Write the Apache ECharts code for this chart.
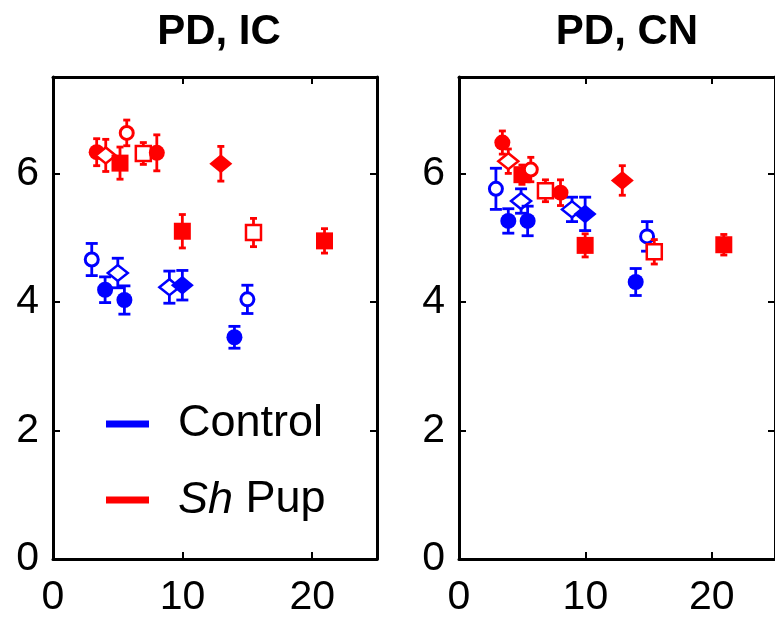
<!DOCTYPE html>
<html>
<head>
<meta charset="utf-8">
<script src="https://cdn.jsdelivr.net/npm/echarts@6/dist/echarts.min.js"></script>
<style>
  html, body { margin: 0; padding: 0; background: #fff; }
  #chart { width: 775px; height: 624px; }
</style>
</head>
<body>
<div id="chart"></div>
<script>
'use strict';

// tick labels
var xTicks = [0, 10, 20];
var yTicks = [0, 2, 4, 6];

// marker type per point (same order in both panels)
var controlMarkers = ['openCircle', 'openDiamond', 'circle', 'circle', 'openDiamond', 'diamond', 'openCircle', 'circle'];
var pupMarkers = ['circle', 'openDiamond', 'square', 'openCircle', 'openSquare', 'circle', 'diamond', 'square', 'openSquare', 'square'];

// PD, IC
var icControlX = [2.99, 5.0, 4.02, 5.51, 8.98, 9.98, 15.0, 14.0];
var icControlY = [4.66, 4.45, 4.19, 4.03, 4.23, 4.26, 4.04, 3.45];
var icControlErr = [0.25, 0.23, 0.2, 0.22, 0.25, 0.23, 0.22, 0.17];
var icPupX = [3.37, 4.07, 5.17, 5.69, 6.97, 8.01, 12.95, 9.98, 15.47, 20.95];
var icPupY = [6.33, 6.28, 6.16, 6.63, 6.31, 6.32, 6.15, 5.10, 5.08, 4.95];
var icPupErr = [0.21, 0.25, 0.25, 0.2, 0.17, 0.28, 0.27, 0.26, 0.22, 0.19];

// PD, CN
var cnControlX = [2.92, 4.91, 3.9, 5.43, 8.94, 9.98, 14.88, 13.98];
var cnControlY = [5.76, 5.57, 5.26, 5.26, 5.44, 5.37, 5.02, 4.31];
var cnControlErr = [0.32, 0.19, 0.19, 0.23, 0.19, 0.26, 0.23, 0.21];
var cnPupX = [3.43, 3.9, 4.98, 5.68, 6.84, 8.03, 12.92, 9.98, 15.45, 20.95];
var cnPupY = [6.48, 6.19, 5.98, 6.06, 5.73, 5.70, 5.89, 4.88, 4.78, 4.89];
var cnPupErr = [0.18, 0.19, 0.15, 0.19, 0.17, 0.2, 0.23, 0.18, 0.19, 0.16];

var BLUE = '#0000ff';
var RED = '#ff0000';
var FONT = '"Liberation Sans", Arial, sans-serif';

function zip(xs, ys, es) {
    var out = [];
    for (var i = 0; i < xs.length; i++) {
        out.push([xs[i], ys[i], es[i]]);
    }
    return out;
}

function markerShape(kind, x, y, color) {
    switch (kind) {
        case 'circle':
            return { type: 'circle', shape: { cx: x, cy: y, r: 8 }, style: { fill: color } };
        case 'openCircle':
            return { type: 'circle', shape: { cx: x, cy: y, r: 6.5 }, style: { fill: '#fff', stroke: color, lineWidth: 3 } };
        case 'square':
            return { type: 'rect', shape: { x: x - 8.5, y: y - 8.5, width: 17, height: 17 }, style: { fill: color } };
        case 'openSquare':
            return { type: 'rect', shape: { x: x - 7.5, y: y - 7.5, width: 15, height: 15 }, style: { fill: '#fff', stroke: color, lineWidth: 2.5 } };
        case 'diamond':
            return { type: 'polygon', shape: { points: [[x - 11.5, y], [x, y - 9.5], [x + 11.5, y], [x, y + 9.5]] }, style: { fill: color } };
        default: // openDiamond
            return { type: 'polygon', shape: { points: [[x - 10, y], [x, y - 8], [x + 10, y], [x, y + 8]] }, style: { fill: '#fff', stroke: color, lineWidth: 2.5 } };
    }
}

function makeRenderItem(markers, color, capHalf) {
    return function (params, api) {
        var xv = api.value(0), yv = api.value(1), ev = api.value(2);
        var p = api.coord([xv, yv]);
        var top = api.coord([xv, yv + ev]);
        var bot = api.coord([xv, yv - ev]);
        var lineStyle = { stroke: color, lineWidth: 2.8 };
        return {
            type: 'group',
            children: [
                { type: 'line', shape: { x1: p[0], y1: top[1], x2: p[0], y2: bot[1] }, style: lineStyle },
                { type: 'line', shape: { x1: p[0] - capHalf, y1: top[1], x2: p[0] + capHalf, y2: top[1] }, style: lineStyle },
                { type: 'line', shape: { x1: p[0] - capHalf, y1: bot[1], x2: p[0] + capHalf, y2: bot[1] }, style: lineStyle },
                markerShape(markers[params.dataIndex], p[0], p[1], color)
            ]
        };
    };
}

function panelSeries(xIdx, yIdx, ctrl, pup) {
    return [
        {
            name: 'Control',
            type: 'custom',
            xAxisIndex: xIdx,
            yAxisIndex: yIdx,
            clip: false,
            itemStyle: { color: BLUE },
            renderItem: makeRenderItem(controlMarkers, BLUE, 6),
            data: ctrl
        },
        {
            name: 'Sh Pup',
            type: 'custom',
            xAxisIndex: xIdx,
            yAxisIndex: yIdx,
            clip: false,
            itemStyle: { color: RED },
            renderItem: makeRenderItem(pupMarkers, RED, 3.5),
            data: pup
        }
    ];
}

var axisLine = { show: true, onZero: false, lineStyle: { color: '#000', width: 3 } };
var axisTick = { show: true, inside: true, length: 7, lineStyle: { color: '#000', width: 2 } };

function xAxisPair(gridIndex) {
    return [
        {
            type: 'value', gridIndex: gridIndex, position: 'bottom', min: 0, max: 25, interval: 10,
            axisLine: axisLine, splitLine: { show: false },
            axisTick: Object.assign({ customValues: xTicks }, axisTick),
            axisLabel: { customValues: xTicks, margin: 18, fontSize: 41, color: '#000', fontFamily: FONT }
        },
        {
            type: 'value', gridIndex: gridIndex, position: 'top', min: 0, max: 25, interval: 10,
            axisLine: axisLine, splitLine: { show: false },
            axisTick: Object.assign({ customValues: xTicks }, axisTick),
            axisLabel: { show: false }
        }
    ];
}

function yAxisPair(gridIndex) {
    return [
        {
            type: 'value', gridIndex: gridIndex, position: 'left', min: 0, max: 7.5, interval: 2,
            axisLine: axisLine, splitLine: { show: false },
            axisTick: Object.assign({ customValues: yTicks }, axisTick),
            axisLabel: { customValues: yTicks, margin: 14, fontSize: 41, color: '#000', fontFamily: FONT }
        },
        {
            type: 'value', gridIndex: gridIndex, position: 'right', min: 0, max: 7.5, interval: 2,
            axisLine: axisLine, splitLine: { show: false },
            axisTick: Object.assign({ customValues: yTicks }, axisTick),
            axisLabel: { show: false }
        }
    ];
}

var chart = echarts.init(document.getElementById('chart'));

var titleStyle = { fontSize: 42, fontWeight: 'bold', color: '#000', fontFamily: FONT };

var options = {
    animation: false,
    title: [
        { text: 'PD, IC', left: 214, top: 6, textAlign: 'center', textStyle: titleStyle },
        { text: 'PD, CN', left: 622, top: 6, textAlign: 'center', textStyle: titleStyle }
    ],
    grid: [
        { left: 53, top: 77, width: 324, height: 482 },
        { left: 459, top: 77, width: 323, height: 482 }
    ],
    xAxis: xAxisPair(0).concat(xAxisPair(1)),
    yAxis: yAxisPair(0).concat(yAxisPair(1)),
    graphic: [
        { type: 'rect', left: 106, top: 420.5, shape: { width: 43, height: 7 }, style: { fill: BLUE } },
        { type: 'rect', left: 106, top: 496.5, shape: { width: 43, height: 7 }, style: { fill: RED } },
        {
            type: 'text', x: 178, y: 424,
            style: { text: 'Control', fontSize: 45, fontFamily: FONT, fill: '#000', verticalAlign: 'middle' }
        },
        {
            type: 'text', x: 178, y: 500,
            style: {
                text: '{i|Sh} Pup', fontSize: 45, fontFamily: FONT, fill: '#000', verticalAlign: 'middle',
                rich: { i: { fontStyle: 'italic', fontSize: 45, fontFamily: FONT } }
            }
        }
    ],
    series: panelSeries(0, 0, zip(icControlX, icControlY, icControlErr), zip(icPupX, icPupY, icPupErr))
        .concat(panelSeries(2, 2, zip(cnControlX, cnControlY, cnControlErr), zip(cnPupX, cnPupY, cnPupErr)))
};

chart.setOption(options);
window.onresize = function () {
    chart.resize();
};
</script>
</body>
</html>
